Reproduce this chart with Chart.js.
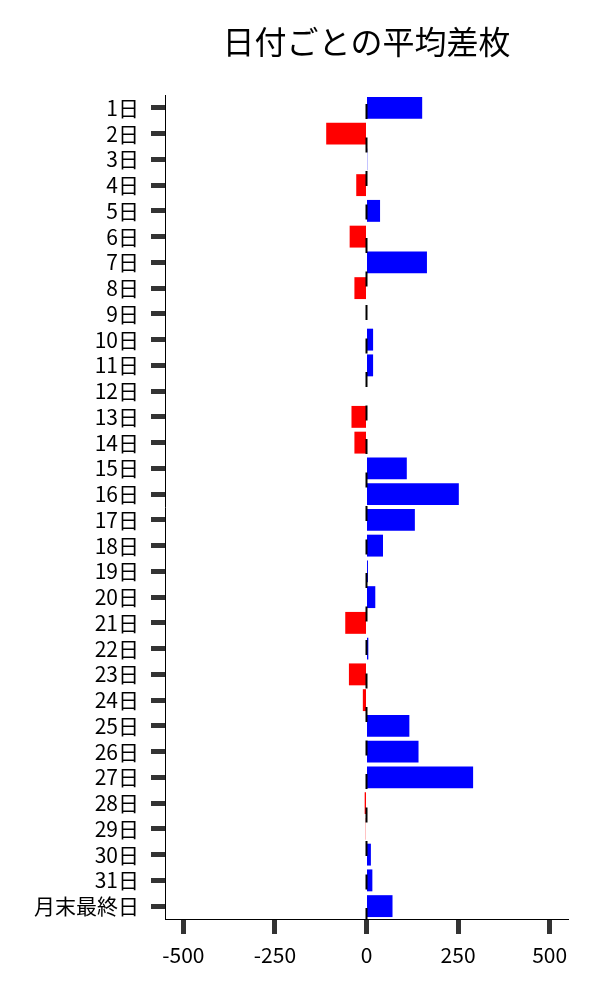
<!DOCTYPE html>
<html>
<head>
<meta charset="utf-8">
<script src="https://cdn.jsdelivr.net/npm/chart.js@4/dist/chart.umd.min.js"></script>
<style>
  html, body { margin: 0; padding: 0; background: #fff; }
  #wrap { width: 600px; height: 1000px; }
</style>
</head>
<body>
<div id="wrap"><canvas id="diffChart" width="600" height="1000"></canvas></div>
<script>
const days = ['1日', '2日', '3日', '4日', '5日', '6日', '7日', '8日', '9日', '10日',
  '11日', '12日', '13日', '14日', '15日', '16日', '17日', '18日', '19日', '20日',
  '21日', '22日', '23日', '24日', '25日', '26日', '27日', '28日', '29日', '30日',
  '31日', '月末最終日'];
const avgDiff = [152, -110, 2, -28, 37, -46, 165, -33, 0, 18,
  18, 0, -41, -33, 110, 252, 132, 45, 4, 24,
  -58, 5, -48, -10, 117, 142, 291, -5, -2, 12,
  16, 71];
const xTicks = [-500, -250, 0, 250, 500];
const chartTitle = '日付ごとの平均差枚';

const FONT = '"Noto Sans CJK JP", "Noto Sans", sans-serif';

// dashed zero line + title centred on the plot area
const extras = {
  id: 'extras',
  afterDatasetsDraw(chart) {
    const { ctx, chartArea, scales } = chart;
    const x0 = scales.x.getPixelForValue(0);
    ctx.save();
    ctx.strokeStyle = '#000';
    ctx.lineWidth = 2;
    ctx.setLineDash([15, 18.5]);
    ctx.lineDashOffset = 24.5;
    ctx.beginPath();
    ctx.moveTo(x0, chartArea.top);
    ctx.lineTo(x0, chartArea.bottom);
    ctx.stroke();
    ctx.restore();
  },
  afterDraw(chart) {
    const { ctx, chartArea } = chart;
    ctx.save();
    ctx.fillStyle = '#000';
    ctx.font = '32px ' + FONT;
    ctx.textAlign = 'center';
    ctx.textBaseline = 'middle';
    ctx.fillText(chartTitle, (chartArea.left + chartArea.right) / 2, 42);
    ctx.restore();
  }
};

new Chart(document.getElementById('diffChart'), {
  type: 'bar',
  data: {
    labels: days,
    datasets: [{
      data: avgDiff,
      backgroundColor: avgDiff.map((v) => (v < 0 ? '#ff0000' : '#0000ff')),
      barPercentage: 0.85,
      categoryPercentage: 1
    }]
  },
  options: {
    indexAxis: 'y',
    responsive: false,
    animation: false,
    layout: { padding: { top: 95, right: 32, left: 0, bottom: 0 } },
    plugins: {
      legend: { display: false },
      tooltip: { enabled: false },
      title: { display: false }
    },
    scales: {
      y: {
        type: 'category',
        afterFit(scale) { scale.width = 165; },
        grid: {
          offset: false,
          drawOnChartArea: false,
          drawTicks: true,
          tickLength: 14,
          tickWidth: 5,
          tickColor: '#333'
        },
        border: { display: true, color: '#000', width: 1 },
        ticks: {
          color: '#000',
          padding: 12,
          autoSkip: false,
          font: { family: FONT, size: 21 }
        }
      },
      x: {
        type: 'linear',
        min: -550,
        max: 550,
        afterFit(scale) { scale.height = 81; },
        afterBuildTicks(scale) { scale.ticks = xTicks.map((v) => ({ value: v })); },
        grid: {
          drawOnChartArea: false,
          drawTicks: true,
          tickLength: 15,
          tickWidth: 5,
          tickColor: '#333'
        },
        border: { display: true, color: '#000', width: 1 },
        ticks: {
          color: '#000',
          padding: 8,
          font: { family: FONT, size: 21 }
        }
      }
    }
  },
  plugins: [extras]
});
</script>
</body>
</html>
